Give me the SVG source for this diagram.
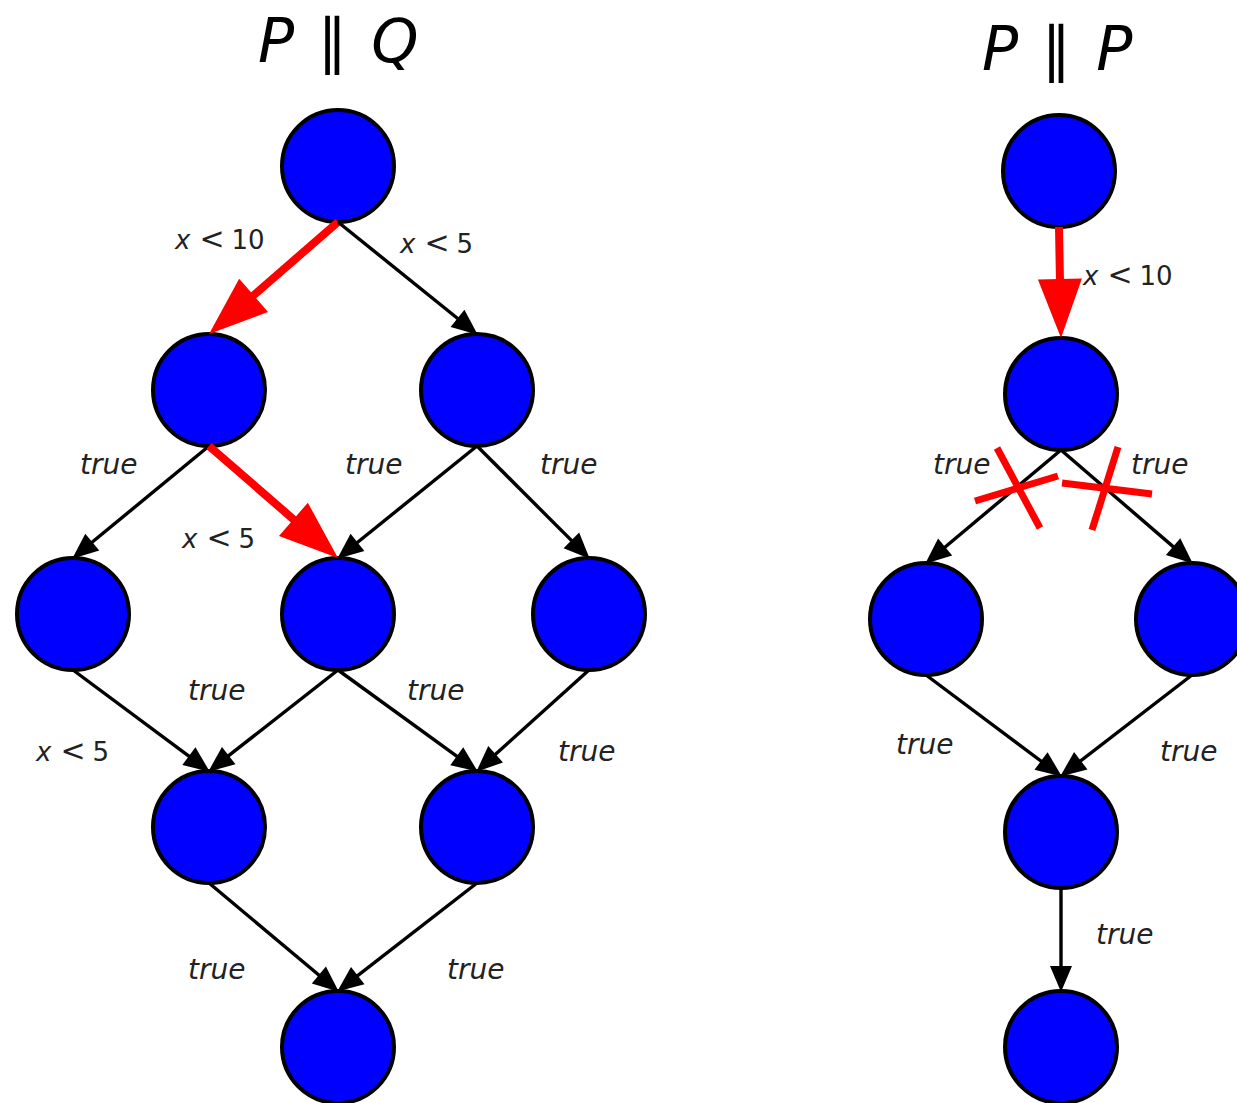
<svg xmlns="http://www.w3.org/2000/svg" width="1237" height="1103" viewBox="0 0 1237 1103">
<style>
.node{fill:#0000ff;stroke:#000;stroke-width:4}
.e{stroke:#000;stroke-width:3.4;fill:none;marker-end:url(#ab)}
.r{stroke:#ff0000;stroke-width:8;fill:none;marker-end:url(#ar)}
.x{stroke:#ff0000;stroke-width:7;fill:none}
.lbl{font-family:"DejaVu Sans",sans-serif;font-size:26px;fill:#222}
.lt{font-size:30px}
.t{font-style:italic;font-size:28px}
.title{font-family:"DejaVu Sans",sans-serif;font-size:60px;fill:#000}
</style>
<defs>
<marker id="ab" markerUnits="userSpaceOnUse" markerWidth="26" markerHeight="22" refX="5" refY="11" orient="auto" overflow="visible"><path d="M0,0 L26,11 L0,22 z" fill="#000"/></marker>
<marker id="ar" markerUnits="userSpaceOnUse" markerWidth="59" markerHeight="44" refX="9" refY="22" orient="auto" overflow="visible"><path d="M0,0 L59,22 L0,44 z" fill="#ff0000"/></marker>
</defs>
<rect width="1237" height="1103" fill="#fff"/>
<g id="titles">
<text class="title" x="258" y="62"><tspan font-style="italic">P</tspan> <tspan dx="4">∥</tspan> <tspan dx="5" font-style="italic">Q</tspan></text>
<text class="title" x="982" y="70"><tspan font-style="italic">P</tspan> <tspan dx="4">∥</tspan> <tspan dx="6" font-style="italic">P</tspan></text>
</g>
<g id="n1"><circle class="node" cx="338" cy="166" r="56"/></g>
<g id="n2"><circle class="node" cx="209" cy="390" r="56"/></g>
<g id="n3"><circle class="node" cx="477" cy="390" r="56"/></g>
<g id="n4"><circle class="node" cx="73" cy="614" r="56"/></g>
<g id="n5"><circle class="node" cx="338" cy="614" r="56"/></g>
<g id="n6"><circle class="node" cx="589" cy="614" r="56"/></g>
<g id="n7"><circle class="node" cx="209" cy="827" r="56"/></g>
<g id="n8"><circle class="node" cx="477" cy="827" r="56"/></g>
<g id="n9"><circle class="node" cx="338" cy="1047" r="56"/></g>
<g id="r1"><circle class="node" cx="1059" cy="171" r="56"/></g>
<g id="r2"><circle class="node" cx="1061" cy="394" r="56"/></g>
<g id="r3"><circle class="node" cx="926" cy="619" r="56"/></g>
<g id="r4"><circle class="node" cx="1192" cy="619" r="56"/></g>
<g id="r5"><circle class="node" cx="1061" cy="832" r="56"/></g>
<g id="r6"><circle class="node" cx="1061" cy="1047" r="56"/></g>
<g id="connectors">
<line class="r" x1="338" y1="222" x2="246.8" y2="301.2"/>
<line class="e" x1="338" y1="222" x2="461.4" y2="321.5"/>
<line class="e" x1="209" y1="446" x2="88.4" y2="545.3"/>
<line class="r" x1="209" y1="446" x2="300.2" y2="525.2"/>
<line class="e" x1="477" y1="446" x2="353.6" y2="545.5"/>
<line class="e" x1="477" y1="446" x2="574.9" y2="543.9"/>
<line class="e" x1="73" y1="670" x2="192.9" y2="759.1"/>
<line class="e" x1="338" y1="670" x2="224.8" y2="758.7"/>
<line class="e" x1="338" y1="670" x2="460.8" y2="759.2"/>
<line class="e" x1="589" y1="670" x2="491.9" y2="757.6"/>
<line class="e" x1="209" y1="883" x2="322.7" y2="978.2"/>
<line class="e" x1="477" y1="883" x2="353.8" y2="978.7"/>
<line class="r" x1="1059" y1="227" x2="1060.1" y2="288"/>
<line class="e" x1="1061" y1="450" x2="941.3" y2="550.2"/>
<line class="e" x1="1061" y1="450" x2="1176.9" y2="549.9"/>
<line class="e" x1="926" y1="675" x2="1045" y2="764"/>
<line class="e" x1="1192" y1="675" x2="1076.8" y2="763.8"/>
<line class="e" x1="1061" y1="888" x2="1061" y2="971"/>
</g>
<g id="crosses">
<line class="x" x1="975" y1="501" x2="1058" y2="476"/>
<line class="x" x1="997" y1="448" x2="1040" y2="528"/>
<line class="x" x1="1062" y1="483" x2="1152" y2="494"/>
<line class="x" x1="1118" y1="447" x2="1092" y2="530"/>
</g>
<g id="labels" class="lbl">
<text x="175" y="249"><tspan font-style="italic">x</tspan><tspan class="lt" dx="9">&lt;</tspan><tspan dx="7">10</tspan></text>
<text x="400" y="253"><tspan font-style="italic">x</tspan><tspan class="lt" dx="9">&lt;</tspan><tspan dx="7">5</tspan></text>
<text class="t" x="80" y="474">true</text>
<text class="t" x="345" y="474">true</text>
<text class="t" x="540" y="474">true</text>
<text x="182" y="548"><tspan font-style="italic">x</tspan><tspan class="lt" dx="9">&lt;</tspan><tspan dx="7">5</tspan></text>
<text class="t" x="188" y="700">true</text>
<text class="t" x="407" y="700">true</text>
<text x="36" y="761"><tspan font-style="italic">x</tspan><tspan class="lt" dx="9">&lt;</tspan><tspan dx="7">5</tspan></text>
<text class="t" x="558" y="761">true</text>
<text class="t" x="188" y="979">true</text>
<text class="t" x="447" y="979">true</text>
<text x="1083" y="285"><tspan font-style="italic">x</tspan><tspan class="lt" dx="9">&lt;</tspan><tspan dx="7">10</tspan></text>
<text class="t" x="933" y="474">true</text>
<text class="t" x="1131" y="474">true</text>
<text class="t" x="896" y="754">true</text>
<text class="t" x="1160" y="761">true</text>
<text class="t" x="1096" y="944">true</text>
</g>
</svg>
